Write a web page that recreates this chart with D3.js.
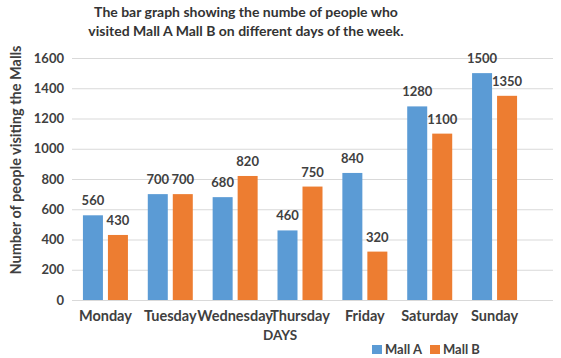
<!DOCTYPE html>
<html>
<head>
<meta charset="utf-8">
<script src="https://cdn.jsdelivr.net/npm/d3@7"></script>
<style>
  body { margin: 0; background: #fff; }
  svg { font-family: Lato, "Open Sans", sans-serif; font-weight: bold; }
</style>
</head>
<body>
<svg width="561" height="358"></svg>
<script>
// Days of the week (categories)
const days = ["Monday", "Tuesday", "Wednesday", "Thursday", "Friday", "Saturday", "Sunday"];

// Visitors per mall
const mallA = [560, 700, 680, 460, 840, 1280, 1500];
const mallB = [430, 700, 820, 750, 320, 1100, 1350];

const seriesNames = ["Mall A", "Mall B"];
const yTicks = [0, 200, 400, 600, 800, 1000, 1200, 1400, 1600];

const colors = { "Mall A": "#5B9BD5", "Mall B": "#ED7D31" };

const svg = d3.select("svg");
const textColor = "#404040";

// scales
const x = d3.scaleBand().domain(days).range([73, 527]).padding(0);
const x1 = d3.scaleBand().domain(seriesNames).range([-22.5, 22.5]).paddingInner(0.2);
const y = d3.scaleLinear().domain([0, 1600]).range([300, 58]);

// gridlines
svg.append("g")
    .selectAll("line")
    .data(yTicks)
    .join("line")
    .attr("x1", 72)
    .attr("x2", 553)
    .attr("y1", d => y(d) + 0.5)
    .attr("y2", d => y(d) + 0.5)
    .style("stroke", "#d9d9d9")
    .style("stroke-width", 1);

// y tick labels
svg.append("g")
    .selectAll("text")
    .data(yTicks)
    .join("text")
    .attr("x", 64)
    .attr("y", d => y(d))
    .attr("dy", "0.35em")
    .attr("text-anchor", "end")
    .style("font-size", "13px")
    .style("fill", textColor)
    .text(d => d);

// table for bars
const rows = days.map((d, i) => ({ day: d, values: [
    { name: "Mall A", value: mallA[i] },
    { name: "Mall B", value: mallB[i] }
]}));

const group = svg.append("g")
    .selectAll("g")
    .data(rows)
    .join("g")
    .attr("transform", d => `translate(${x(d.day) + x.bandwidth() / 2},0)`);

group.selectAll("rect")
    .data(d => d.values)
    .join("rect")
    .attr("x", d => x1(d.name))
    .attr("width", x1.bandwidth())
    .attr("y", d => y(d.value))
    .attr("height", d => y(0) - y(d.value))
    .style("fill", d => colors[d.name]);

group.selectAll("text")
    .data(d => d.values)
    .join("text")
    .attr("x", d => x1(d.name) + x1.bandwidth() / 2)
    .attr("y", d => y(d.value) - 10)
    .attr("text-anchor", "middle")
    .style("font-size", "13px")
    .style("fill", textColor)
    .text(d => d.value);

// x labels
svg.append("g")
    .selectAll("text")
    .data(days)
    .join("text")
    .attr("x", d => x(d) + x.bandwidth() / 2)
    .attr("y", 321)
    .attr("text-anchor", "middle")
    .style("font-size", "14.5px")
    .style("fill", textColor)
    .text(d => d);

// axis titles
svg.append("text")
    .attr("x", 280)
    .attr("y", 340)
    .attr("text-anchor", "middle")
    .style("font-size", "13.5px")
    .style("fill", textColor)
    .text("DAYS");

svg.append("text")
    .attr("transform", "translate(21,160) rotate(-90)")
    .attr("text-anchor", "middle")
    .style("font-size", "14.5px")
    .style("fill", textColor)
    .text("Number of people visiting the Malls");

// title
const title = svg.append("text")
    .attr("text-anchor", "middle")
    .style("font-size", "14px")
    .style("fill", "#333");
title.append("tspan").attr("x", 246).attr("y", 17).text("The bar graph showing the numbe of people who");
title.append("tspan").attr("x", 246).attr("y", 36).text("visited Mall A Mall B on different days of the week.");

// legend
const legend = svg.append("g")
    .selectAll("g")
    .data(seriesNames)
    .join("g")
    .attr("transform", (d, i) => `translate(${372 + i * 58},345)`);

legend.append("rect")
    .attr("width", 10)
    .attr("height", 9)
    .style("fill", d => colors[d]);

legend.append("text")
    .attr("x", 13)
    .attr("y", 9)
    .style("font-size", "13px")
    .style("fill", textColor)
    .text(d => d);
</script>
</body>
</html>
